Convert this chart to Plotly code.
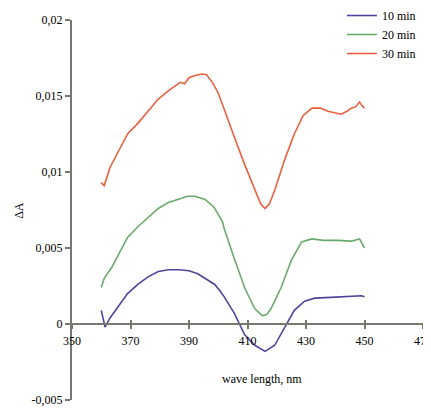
import plotly.graph_objects as go

# 10 min
wl_10 = [360, 361.3, 363, 366, 369, 372.5, 376, 379.5, 383, 386.5, 390, 393, 396.5, 398.8, 400.5,
         402, 405.5, 409, 412.5, 416, 419.3, 422.7, 426, 429.5, 433, 438.5, 444, 449, 450]
dA_10 = [0.0009, -0.0002, 0.0004, 0.0012, 0.0020, 0.0026, 0.0031, 0.00345, 0.00357, 0.00357, 0.0035,
         0.0033, 0.00285, 0.0026, 0.0022, 0.0018, 0.0007, -0.0007, -0.0014, -0.0018, -0.0014, -0.0002,
         0.0009, 0.0015, 0.0017, 0.00175, 0.0018, 0.00186, 0.0018]

# 20 min
wl_20 = [360, 361, 363.5, 366.5, 369, 372.5, 376, 379.5, 383, 386, 389.5, 392, 395.5, 398.5, 401.5,
         402, 404, 405.5, 409, 412.5, 415, 416.5, 418, 421.5, 425, 428.5, 432, 436, 441, 445.5, 448.3, 450]
dA_20 = [0.0024, 0.0030, 0.0037, 0.0048, 0.0057, 0.0064, 0.0070, 0.0076, 0.0080, 0.0082, 0.0084,
         0.0084, 0.0082, 0.0077, 0.0067, 0.0063, 0.0051, 0.0043, 0.0024, 0.0010, 0.00055, 0.0006,
         0.0010, 0.0024, 0.0042, 0.0054, 0.0056, 0.0055, 0.0055, 0.00545, 0.0056, 0.0050]

# 30 min
wl_30 = [360, 361, 363, 366, 369, 372.5, 376, 379.5, 383, 386, 387, 388.5, 390, 392, 394.5, 396, 398,
         400, 402, 405.5, 409, 412.5, 414.5, 416, 417.5, 419.5, 422.5, 426, 429, 432, 435, 437.5,
         440, 442, 444, 445.5, 447, 448.3, 449, 450]
dA_30 = [0.0093, 0.0091, 0.0103, 0.0114, 0.0125, 0.0132, 0.0140, 0.0148, 0.01535, 0.0158, 0.0159,
         0.0158, 0.0162, 0.01635, 0.01645, 0.0164, 0.0159, 0.0152, 0.0141, 0.0123, 0.0105, 0.0088,
         0.0079, 0.0076, 0.0079, 0.0089, 0.0107, 0.0125, 0.0137, 0.0142, 0.0142, 0.0140, 0.0139,
         0.0138, 0.0140, 0.0142, 0.0143, 0.0146, 0.0144, 0.0142]

x_ticks = [350, 370, 390, 410, 430, 450, 470]
y_ticks = [-0.005, 0, 0.005, 0.01, 0.015, 0.02]
y_tick_text = ["-0,005", "0", "0,005", "0,01", "0,015", "0,02"]

series = [
    ("10 min", wl_10, dA_10, "#52449c"),
    ("20 min", wl_20, dA_20, "#6aaa6a"),
    ("30 min", wl_30, dA_30, "#ea6040"),
]

FONT = "Liberation Serif"
AXIS_COLOR = "#7a7670"

fig = go.Figure()
for name, x, y, c in series:
    fig.add_trace(go.Scatter(x=x, y=y, mode="lines", name=name,
                             line=dict(color=c, width=1.6)))

# invisible trace on overlay axis for inward tick marks
fig.add_trace(go.Scatter(x=[350, 470], y=[0, 0], xaxis="x2", mode="lines",
                         line=dict(width=0), showlegend=False, hoverinfo="skip"))

# page body has an 8px default margin; figure is sized to fit the window
fig.update_layout(
    width=423, height=401,
    margin=dict(l=64, r=8, t=12, b=9, autoexpand=False),
    paper_bgcolor="white", plot_bgcolor="white",
    font=dict(family=FONT, size=12, color="black"),
    showlegend=True,
    legend=dict(x=0.769, y=1.05, xanchor="left", yanchor="top",
                bgcolor="rgba(0,0,0,0)", font=dict(family=FONT, size=12),
                itemwidth=30, tracegroupgap=0),
    xaxis=dict(range=[350, 470], tickvals=x_ticks, anchor="free", position=0.2,
               showline=True, linecolor=AXIS_COLOR, linewidth=2, automargin=False,
               ticks="outside", ticklen=4, tickcolor=AXIS_COLOR, tickwidth=1.5,
               showgrid=False, zeroline=False, ticklabelstandoff=2,
               ticklabeloverflow="allow",
               tickfont=dict(family=FONT, size=12)),
    xaxis2=dict(range=[350, 470], tickvals=x_ticks, anchor="free", position=0.2,
                overlaying="x", showline=False, showticklabels=False, automargin=False,
                ticks="inside", ticklen=4, tickcolor=AXIS_COLOR, tickwidth=1.5,
                showgrid=False, zeroline=False),
    yaxis=dict(range=[-0.005, 0.02], tickvals=y_ticks, ticktext=y_tick_text,
               showline=True, linecolor=AXIS_COLOR, linewidth=2, automargin=False,
               ticks="outside", ticklen=5, tickcolor=AXIS_COLOR, tickwidth=1.5,
               showgrid=False, zeroline=False, ticklabeloverflow="allow",
               tickfont=dict(family=FONT, size=12)),
    annotations=[
        dict(text="wave length, nm", x=414.8, y=-0.0036, xref="x", yref="y",
             showarrow=False, font=dict(family=FONT, size=12)),
        dict(text="ΔA", x=-0.177, y=0.0075, xref="paper", yref="y", textangle=-90,
             showarrow=False, font=dict(family=FONT, size=12)),
    ],
)

fig.write_html("out.html")
